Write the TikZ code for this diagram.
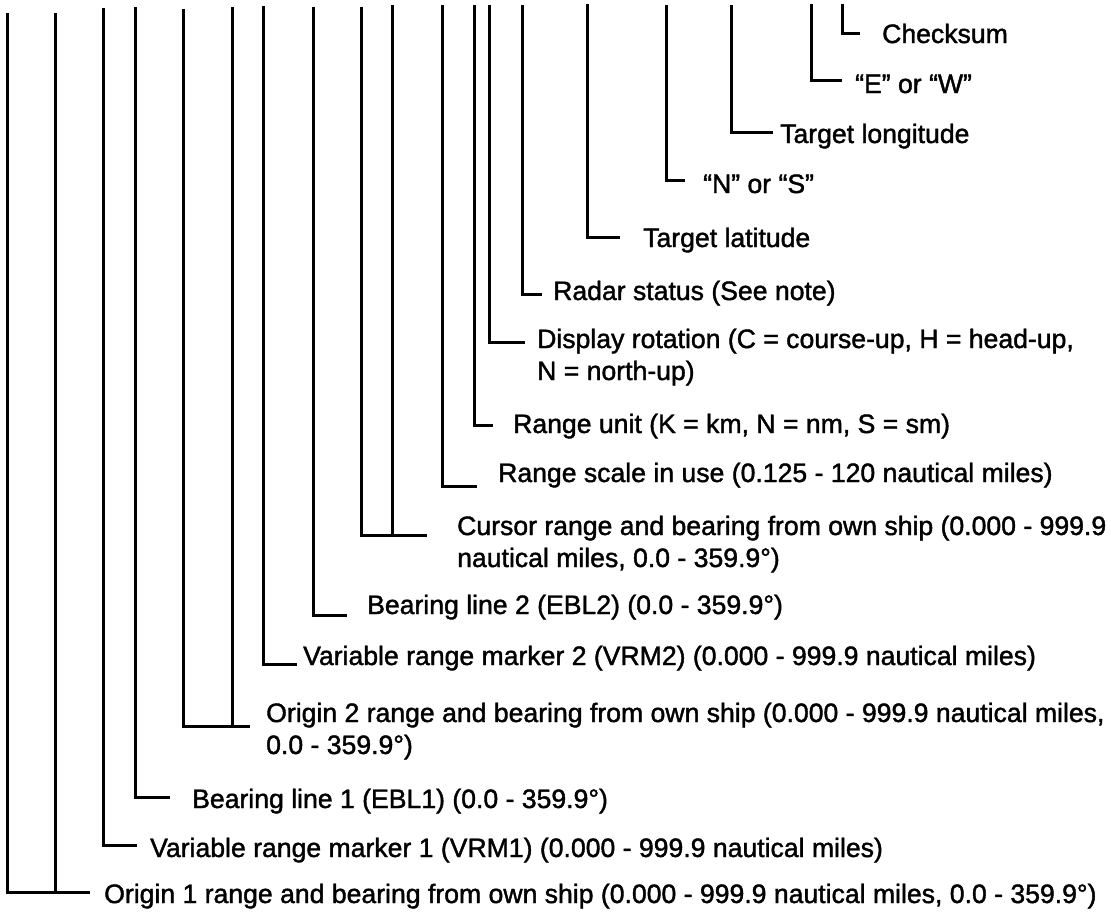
\documentclass[tikz,border=0pt]{standalone}
\usepackage{fontspec}
\setmainfont{Liberation Sans}
\newfontfamily\lblfont{Liberation Sans}[FakeBold=1.5]
\begin{document}
\begin{tikzpicture}[x=1bp,y=-1bp,
  lbl/.style={anchor=base west, inner sep=0pt, font=\lblfont\fontsize{26.6bp}{32bp}\selectfont, align=left},
  lead/.style={line width=3bp, line cap=butt, line join=miter}]
\useasboundingbox (0,0) rectangle (1111,914);
% label nodes (two-line labels are placed by the baseline of their last line)
\node[lbl] (l1)  at (882,43)  {Checksum};
\node[lbl] (l2)  at (855,93)  {“E” or “W”};
\node[lbl] (l3)  at (780,143) {Target longitude};
\node[lbl] (l4)  at (703,193) {“N” or “S”};
\node[lbl] (l5)  at (643,247) {Target latitude};
\node[lbl] (l6)  at (553,300) {Radar status (See note)};
\node[lbl] (l7)  at (537,380) {Display rotation (C = course-up, H = head-up,\\N = north-up)};
\node[lbl] (l8)  at (513,433) {Range unit (K = km, N = nm, S = sm)};
\node[lbl] (l9)  at (498,482) {Range scale in use (0.125 - 120 nautical miles)};
\node[lbl] (l10) at (457,567) {Cursor range and bearing from own ship (0.000 - 999.9\\nautical miles, 0.0 - 359.9°)};
\node[lbl] (l11) at (367,614) {Bearing line 2 (EBL2) (0.0 - 359.9°)};
\node[lbl] (l12) at (303,665) {Variable range marker 2 (VRM2) (0.000 - 999.9 nautical miles)};
\node[lbl] (l13) at (266,754) {Origin 2 range and bearing from own ship (0.000 - 999.9 nautical miles,\\0.0 - 359.9°)};
\node[lbl] (l14) at (192,808) {Bearing line 1 (EBL1) (0.0 - 359.9°)};
\node[lbl] (l15) at (150,857) {Variable range marker 1 (VRM1) (0.000 - 999.9 nautical miles)};
\node[lbl] (l16) at (104,903) {Origin 1 range and bearing from own ship (0.000 - 999.9 nautical miles, 0.0 - 359.9°)};
% leader tops and ends
\coordinate (t1)  at (842,4);  \coordinate (e1)  at (860,33);
\coordinate (t2)  at (811,4);  \coordinate (e2)  at (842,80);
\coordinate (t3)  at (731,5);  \coordinate (e3)  at (773,132);
\coordinate (t4)  at (666,5);  \coordinate (e4)  at (685,180);
\coordinate (t5)  at (587,4);  \coordinate (e5)  at (620,237);
\coordinate (t6)  at (522,5);  \coordinate (e6)  at (542,294);
\coordinate (t7)  at (489,5);  \coordinate (e7)  at (525,342);
\coordinate (t8)  at (474,5);  \coordinate (e8)  at (493,425);
\coordinate (t9)  at (442,5);  \coordinate (e9)  at (477,486);
\coordinate (t10a) at (361,7); \coordinate (t10b) at (392,5); \coordinate (e10) at (427,535);
\coordinate (t11) at (313,7);  \coordinate (e11) at (347,615);
\coordinate (t12) at (263,6);  \coordinate (e12) at (297,664);
\coordinate (t13a) at (183,9); \coordinate (t13b) at (232,7); \coordinate (e13) at (250,726);
\coordinate (t14) at (135,7);  \coordinate (e14) at (170,797);
\coordinate (t15) at (103,8);  \coordinate (e15) at (137,845);
\coordinate (t16a) at (7,13);  \coordinate (t16b) at (55,13);  \coordinate (e16) at (90,892);
% leaders
\foreach \i in {1,...,9,11,12,14,15}{\draw[lead] (t\i) |- (e\i);}
\foreach \i in {10,13,16}{\draw[lead] (t\i a) |- (e\i); \draw[lead] (t\i b) -- (t\i b |- e\i);}
\end{tikzpicture}
\end{document}
